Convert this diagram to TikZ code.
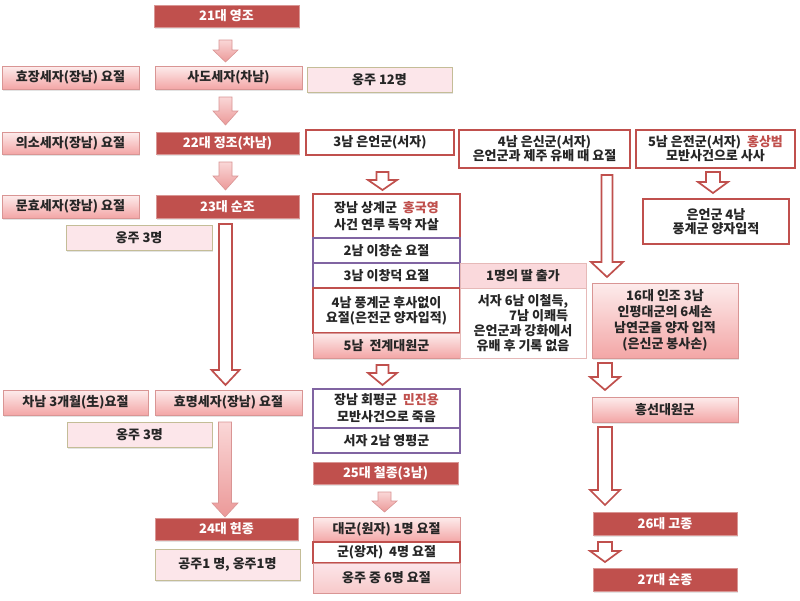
\documentclass[tikz,border=0pt]{standalone}
\usepackage{fontspec}
\setmainfont{Noto Sans CJK KR}
\usetikzlibrary{shadows,calc}
\definecolor{dred}{HTML}{C0504D}
\definecolor{pur}{HTML}{8064A2}
\definecolor{pkline}{HTML}{D99594}
\definecolor{pktop}{HTML}{FDECEC}
\definecolor{pkbot}{HTML}{F3A6A6}
\definecolor{ongfill}{HTML}{FCE6EA}
\definecolor{ongline}{HTML}{C4BD97}
\definecolor{lpk}{HTML}{E6B9B8}
\definecolor{hlred}{HTML}{C0504D}
\newcommand\rtxt[1]{\textcolor{hlred}{#1}}
\newcommand\kbox[7]{\node[#1, minimum width={(#5-#3)*1pt}, minimum height={(#6-#4)*1pt}] (#2) at ({(#3+#5)/2},{(#4+#6)/2}) {#7};}
\tikzset{
  base/.style={inner sep=0pt, outer sep=0pt, align=center, font=\fontsize{13}{15}\selectfont\bfseries, text=black!85},
  lh/.style={font=\fontsize{13}{#1}\selectfont\bfseries},
  shad/.style={drop shadow={shadow xshift=1pt,shadow yshift=-1.5pt,opacity=0.22}},
  dark/.style={base, shad, fill=dred, draw=dred!60!white, line width=0.6pt, text=white},
  pinkg/.style={base, shad, top color=pktop, bottom color=pkbot, draw=pkline, line width=0.8pt},
  pinkl/.style={base, top color=ongfill, bottom color=pkbot!60!white, draw=pkline, line width=0.8pt},
  ongbox/.style={base, shad, fill=ongfill, draw=ongline, line width=0.8pt},
  wred/.style={base, fill=white, draw=dred, line width=1.5pt},
  wpur/.style={base, fill=white, draw=pur, line width=1.5pt},
  ttalbox/.style={base, fill=ongfill!80!pkbot, draw=lpk, line width=0.8pt},
  lightw/.style={base, fill=white, draw=lpk, line width=0.8pt},
  blk/.style n args={3}{to path={let \p1=(\tikztostart), \p2=(\tikztotarget) in
      (\x1-#1,\y1) -- (\x1+#1,\y1) -- (\x1+#1,\y2+#3) -- (\x1+#2,\y2+#3) -- (\x1,\y2)
      -- (\x1-#2,\y2+#3) -- (\x1-#1,\y2+#3) -- cycle}},
  hol/.style={draw=dred, line width=1.7pt, fill=white, line join=miter},
  pka/.style={draw=pkline, line width=0.6pt, top color=pktop!70!pkbot, bottom color=pkbot!85!dred},
}
\begin{document}
\begin{tikzpicture}[x=1pt,y=-1pt]
\fill[white] (0,0) rectangle (800,600);
\useasboundingbox (0,0) rectangle (800,600);

% left / centre-left column
\kbox{dark}{n21}{154}{5}{299}{27}{21대 영조}
\kbox{pinkg}{hyojang}{2}{66}{139}{89}{효장세자(장남) 요절}
\kbox{pinkg}{sado}{155}{66}{302}{89}{사도세자(차남)}
\kbox{ongbox}{ong12}{307}{67}{452}{92}{옹주 12명}
\kbox{pinkg}{uiso}{2}{132}{139}{154}{의소세자(장남) 요절}
\kbox{dark}{n22}{156}{132}{299}{154}{22대 정조(차남)}
\kbox{pinkg}{munhyo}{2}{195}{139}{218}{문효세자(장남) 요절}
\kbox{dark}{n23}{156}{195}{299}{218}{23대 순조}
\kbox{ongbox}{ong3a}{66}{225}{212}{250}{옹주 3명}
\kbox{pinkg}{chanam}{3}{390}{148}{415}{차남 3개월(生)요절}
\kbox{pinkg}{hyomyeong}{155}{390}{302}{415}{효명세자(장남) 요절}
\kbox{ongbox}{ong3b}{67}{422}{212}{447}{옹주 3명}
\kbox{dark}{n24}{155}{518}{298}{540}{24대 헌종}
\kbox{ongbox}{gongju}{155}{549}{300}{580}{공주1 명, 옹주1명}

% middle column
\kbox{wred}{eunun}{306}{130}{454}{155}{3남 은언군(서자)}
\kbox{wred,lh=17}{s1}{313}{194}{460}{238}{장남 상계군~~\rtxt{홍국영}\\사건 연루 독약 자살}
\kbox{wpur}{s2}{313}{238}{460}{263}{2남 이창순 요절}
\kbox{wpur}{s3}{313}{263}{460}{288}{3남 이창덕 요절}
\kbox{wred}{s4}{313}{288}{460}{333}{4남 풍계군 후사없이\\요절(은전군 양자입적)}
\kbox{pinkg}{s5}{313}{333}{460}{358}{5남~~전계대원군}
\kbox{ttalbox}{ttal}{460}{263}{586}{288}{1명의 딸 출가}
\kbox{lightw}{seoja}{460}{288}{586}{358}{서자 6남 이철득,\\\hspace*{2.4em}7남 이쾌득\\은언군과 강화에서\\유배 후 기록 없음}
\kbox{wpur,lh=17}{hoe}{313}{389}{460}{428}{장남 회평군~~\rtxt{민진용}\\모반사건으로 죽음}
\kbox{wpur}{yeong}{313}{428}{460}{453}{서자 2남 영평군}
\kbox{dark}{n25}{313}{462}{458}{484}{25대 철종(3남)}
\kbox{pinkg}{daegun}{313}{517}{460}{542}{대군(원자) 1명 요절}
\kbox{wred}{gun}{313}{542}{460}{563}{군(왕자)~~4명 요절}
\kbox{pinkl}{ong6}{313}{563}{460}{593}{옹주 중 6명 요절}

% right columns
\kbox{wred,lh=14}{eunsin}{459}{130}{630}{168}{4남 은신군(서자)\\은언군과 제주 유배 때 요절}
\kbox{wred,lh=14}{eunjeon}{636}{130}{795}{168}{5남 은전군(서자)~~\rtxt{홍상범}\\모반사건으로 사사}
\kbox{wred,lh=14}{pung}{643}{199}{789}{244}{은언군 4남\\풍계군 양자입적}
\kbox{pinkg,lh=16}{injo}{592}{283}{738}{358}{16대 인조 3남\\인평대군의 6세손\\남연군을 양자 입적\\(은신군 봉사손)}
\kbox{pinkg}{heung}{592}{397}{738}{422}{흥선대원군}
\kbox{dark}{n26}{593}{512}{737}{535}{26대 고종}
\kbox{dark}{n27}{593}{568}{737}{591}{27대 순종}

% block arrows
\draw[pka, blk={6.5pt}{12.5pt}{12pt}] ([xshift=-1pt,yshift=-13pt]n21.south) to ([yshift=4pt]sado.north);
\draw[pka, blk={6.5pt}{12.5pt}{14pt}] ([xshift=-3pt,yshift=-8pt]sado.south) to ([yshift=7pt]n22.north);
\draw[pka, blk={6.5pt}{12.5pt}{14pt}] ([xshift=-2pt,yshift=-8pt]n22.south) to ([yshift=5pt]n23.north);
\draw[hol, blk={6.5pt}{14pt}{15pt}] ([xshift=-2pt,yshift=-6pt]n23.south) to ([yshift=5pt]hyomyeong.north);
\draw[pka, blk={6.5pt}{13pt}{14pt}] ([xshift=-3.5pt,yshift=-7pt]hyomyeong.south) to ([yshift=1pt]n24.north);
\draw[hol, blk={6pt}{14.5pt}{10pt}] ([xshift=2.5pt,yshift=-17pt]eunun.south) to ([yshift=4pt]s1.north);
\draw[hol, blk={6pt}{14.5pt}{12pt}] ([xshift=-4pt,yshift=-7pt]s5.south) to ([yshift=4pt]hoe.north);
\draw[pka, blk={6.5pt}{12.5pt}{11pt}] ([xshift=-1pt,yshift=-8pt]n25.south) to ([yshift=5pt]daegun.north);
\draw[hol, blk={7pt}{15pt}{11pt}] ([xshift=-2.5pt,yshift=-4pt]eunjeon.south) to ([yshift=6pt]pung.north);
\draw[hol, blk={5.5pt}{16pt}{15pt}] ([xshift=62.5pt,yshift=-7pt]eunsin.south) to ([yshift=6pt]injo.north);
\draw[hol, blk={7pt}{15pt}{13pt}] ([xshift=-60pt,yshift=-5pt]injo.south) to ([yshift=7pt]heung.north);
\draw[hol, blk={7pt}{15pt}{15pt}] ([xshift=-60pt,yshift=-5pt]heung.south) to ([yshift=7pt]n26.north);
\draw[hol, blk={7pt}{15pt}{11pt}] ([xshift=-60pt,yshift=-7pt]n26.south) to ([yshift=6pt]n27.north);
\end{tikzpicture}
\end{document}
